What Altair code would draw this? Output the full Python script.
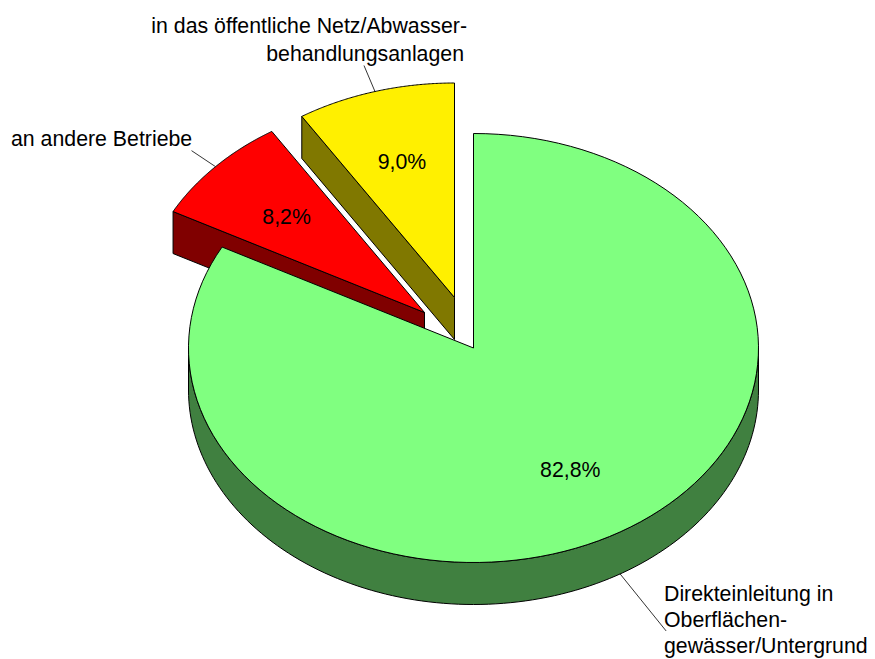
import math
import altair as alt
import pandas as pd

# --- chart values ---
categories = ["Direkteinleitung", "an andere Betriebe", "öffentliches Netz"]
shares = [82.8, 8.2, 9.0]
share_labels = ["82,8%", "8,2%", "9,0%"]
top_colors = ["#80FF80", "#FF0000", "#FFF000"]
side_colors = ["#408040", "#800000", "#807800"]
outer_lines = [
    ["Direkteinleitung in", "Oberflächen-", "gewässer/Untergrund"],
    ["an andere Betriebe"],
    ["in das öffentliche Netz/Abwasser-", "behandlungsanlagen"],
]

# --- layout (pixels in the page picture) ---
W, H = 859, 651
RX, RY, DEPTH = 285.0, 214.5, 42.0
CX, CY = 473.5, 348.0
centres = [(473.5, 348.0), (424.5, 312.5), (454.5, 297.5)]
leader_d = [(46, 57), (-24, -16), (-11, -26)]
label_pos = [
    [(664, 601, "left"), (664, 627, "left"), (664, 653, "left")],
    [(11, 146, "left")],
    [(467, 33, "right"), (464, 61, "right")],
]
FONT = "Liberation Sans"
FONT_SIZE = 21.3


def ux(px):
    return (px - CX) / RX


def uy(py):
    return (CY - py) / RY


xs = alt.Scale(domain=[ux(8), ux(8 + W)], range=[0, W], nice=False, zero=False)
ys = alt.Scale(domain=[uy(8 + H), uy(8)], range=[H, 0], nice=False, zero=False)
X = alt.X("x:Q", scale=xs, axis=None)
Y = alt.Y("y:Q", scale=ys, axis=None)

# slice angles, clockwise from 12 o'clock
bounds = [0.0]
for s in shares:
    bounds.append(bounds[-1] + s / sum(shares) * 2 * math.pi)


def arc(a0, a1, cx, cy, drop=0.0, n=120):
    pts = []
    for k in range(n + 1):
        a = a0 + (a1 - a0) * k / n
        pts.append((ux(cx) + math.sin(a), uy(cy) + math.cos(a) - drop / RY))
    return pts


def poly(pts, color):
    df = pd.DataFrame(pts, columns=["x", "y"])
    df["i"] = range(len(df))
    return (
        alt.Chart(df)
        .mark_line(
            fill=color,
            stroke="black",
            strokeWidth=1,
            strokeJoin="miter",
            interpolate="linear-closed",
        )
        .encode(x=X, y=Y, order="i:Q")
    )


layers = []
# yellow, then red, then green (back to front)
for idx in (2, 1, 0):
    a0, a1 = bounds[idx], bounds[idx + 1]
    cx, cy = centres[idx]
    apex = (ux(cx), uy(cy))
    apex_low = (ux(cx), uy(cy + DEPTH))
    if idx == 0:
        side = arc(math.pi / 2, 3 * math.pi / 2, cx, cy) + arc(
            3 * math.pi / 2, math.pi / 2, cx, cy, DEPTH
        )
    else:
        rim = (ux(cx) + math.sin(a0), uy(cy) + math.cos(a0))
        rim_low = (rim[0], rim[1] - DEPTH / RY)
        side = [rim, apex, apex_low, rim_low]
    layers.append(poly(side, side_colors[idx]))
    layers.append(poly([apex] + arc(a0, a1, cx, cy), top_colors[idx]))

# leaders and labels
texts = []
pct = []
for idx in range(3):
    a0, a1 = bounds[idx], bounds[idx + 1]
    mid = (a0 + a1) / 2
    cx, cy = centres[idx]
    drop = DEPTH if idx == 0 else 0.0
    start = (ux(cx) + math.sin(mid), uy(cy) + math.cos(mid) - drop / RY)
    dx, dy = leader_d[idx]
    end = (start[0] + dx / RX, start[1] - dy / RY)
    ldf = pd.DataFrame([start, end], columns=["x", "y"])
    layers.append(
        alt.Chart(ldf).mark_line(stroke="black", strokeWidth=0.8).encode(x=X, y=Y)
    )
    pct.append(
        {
            "x": ux(cx) + 0.66 * math.sin(mid),
            "y": uy(cy) + 0.66 * math.cos(mid) - 1.5 / RY,
            "t": share_labels[idx],
        }
    )
    for line, (px, py, al) in zip(outer_lines[idx], label_pos[idx]):
        texts.append({"x": ux(px), "y": uy(py), "t": line, "a": al})

layers.append(
    alt.Chart(pd.DataFrame(pct))
    .mark_text(font=FONT, fontSize=FONT_SIZE, color="black", align="center", baseline="middle")
    .encode(x=X, y=Y, text="t:N")
)
tdf = pd.DataFrame(texts)
for al in ("left", "right"):
    layers.append(
        alt.Chart(tdf[tdf.a == al])
        .mark_text(font=FONT, fontSize=FONT_SIZE, color="black", align=al, baseline="alphabetic")
        .encode(x=X, y=Y, text="t:N")
    )

chart = (
    alt.layer(*layers)
    .properties(
        width=W,
        height=H,
        padding=0,
        background="white",
        autosize=alt.AutoSizeParams(type="none"),
    )
    .configure_view(stroke=None)
)
chart.save("out.html", embed_options={"renderer": "svg", "actions": False})
